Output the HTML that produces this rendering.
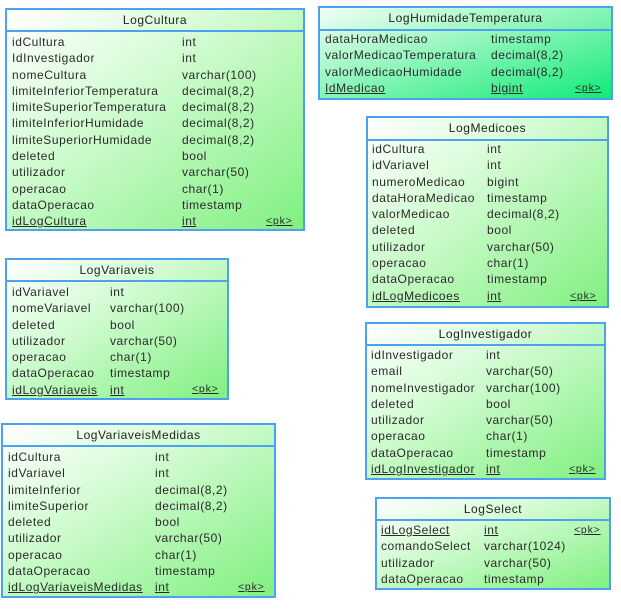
<!DOCTYPE html>
<html><head><meta charset="utf-8"><style>
body{margin:0;width:621px;height:610px;background:#fff;position:relative;overflow:hidden;font-family:"Liberation Sans",Arial,sans-serif;font-size:12px;letter-spacing:0.55px;color:#2a2a2a}
.t{position:absolute;box-sizing:border-box;border:2px solid #4aa2f0;background:linear-gradient(to bottom right,#ffffff 0%,#d8fcd8 35%,#80f080 100%)}
.t.h{background:linear-gradient(to bottom right,#f0fff6 0%,#a8f8c8 35%,#10ea78 100%)}
.hd{position:absolute;left:0;right:0;top:0;border-bottom:2px solid #4aa2f0;text-align:center;font-size:12px;color:#222}
.r{position:absolute;white-space:nowrap;line-height:16.3px}
.u{text-decoration:underline}
.pk{font-size:10.5px;letter-spacing:0.8px}
</style></head><body>

<div class="t" style="left:5px;top:8px;width:300px;height:223px">
<div class="hd" style="height:20px;line-height:20px">LogCultura</div>
<div class="r" style="left:5px;top:24px">idCultura<br>IdInvestigador<br>nomeCultura<br>limiteInferiorTemperatura<br>limiteSuperiorTemperatura<br>limiteInferiorHumidade<br>limiteSuperiorHumidade<br>deleted<br>utilizador<br>operacao<br>dataOperacao<br><span class="u">idLogCultura</span></div>
<div class="r" style="left:175px;top:24px">int<br>int<br>varchar(100)<br>decimal(8,2)<br>decimal(8,2)<br>decimal(8,2)<br>decimal(8,2)<br>bool<br>varchar(50)<br>char(1)<br>timestamp<br><span class="u">int</span></div>
<div class="r u pk" style="left:259px;top:203px">&lt;pk&gt;</div>
</div>

<div class="t h" style="left:318px;top:6px;width:295px;height:94px">
<div class="hd" style="height:21px;line-height:21px">LogHumidadeTemperatura</div>
<div class="r" style="left:5px;top:23px">dataHoraMedicao<br>valorMedicaoTemperatura<br>valorMedicaoHumidade<br><span class="u">IdMedicao</span></div>
<div class="r" style="left:171px;top:23px">timestamp<br>decimal(8,2)<br>decimal(8,2)<br><span class="u">bigint</span></div>
<div class="r u pk" style="left:255px;top:72px">&lt;pk&gt;</div>
</div>

<div class="t" style="left:366px;top:116px;width:243px;height:192px">
<div class="hd" style="height:21px;line-height:21px">LogMedicoes</div>
<div class="r" style="left:4px;top:23px">idCultura<br>idVariavel<br>numeroMedicao<br>dataHoraMedicao<br>valorMedicao<br>deleted<br>utilizador<br>operacao<br>dataOperacao<br><span class="u">idLogMedicoes</span></div>
<div class="r" style="left:119px;top:23px">int<br>int<br>bigint<br>timestamp<br>decimal(8,2)<br>bool<br>varchar(50)<br>char(1)<br>timestamp<br><span class="u">int</span></div>
<div class="r u pk" style="left:202px;top:170px">&lt;pk&gt;</div>
</div>

<div class="t" style="left:5px;top:258px;width:224px;height:142px">
<div class="hd" style="height:20px;line-height:20px">LogVariaveis</div>
<div class="r" style="left:5px;top:24px">idVariavel<br>nomeVariavel<br>deleted<br>utilizador<br>operacao<br>dataOperacao<br><span class="u">idLogVariaveis</span></div>
<div class="r" style="left:103px;top:24px">int<br>varchar(100)<br>bool<br>varchar(50)<br>char(1)<br>timestamp<br><span class="u">int</span></div>
<div class="r u pk" style="left:185px;top:121px">&lt;pk&gt;</div>
</div>

<div class="t" style="left:1px;top:423px;width:275px;height:175px">
<div class="hd" style="height:20px;line-height:20px">LogVariaveisMedidas</div>
<div class="r" style="left:5px;top:24px">idCultura<br>idVariavel<br>limiteInferior<br>limiteSuperior<br>deleted<br>utilizador<br>operacao<br>dataOperacao<br><span class="u">idLogVariaveisMedidas</span></div>
<div class="r" style="left:152px;top:24px">int<br>int<br>decimal(8,2)<br>decimal(8,2)<br>bool<br>varchar(50)<br>char(1)<br>timestamp<br><span class="u">int</span></div>
<div class="r u pk" style="left:235px;top:154px">&lt;pk&gt;</div>
</div>

<div class="t" style="left:365px;top:322px;width:241px;height:158px">
<div class="hd" style="height:20px;line-height:20px">LogInvestigador</div>
<div class="r" style="left:4px;top:23px">idInvestigador<br>email<br>nomeInvestigador<br>deleted<br>utilizador<br>operacao<br>dataOperacao<br><span class="u">idLogInvestigador</span></div>
<div class="r" style="left:119px;top:23px">int<br>varchar(50)<br>varchar(100)<br>bool<br>varchar(50)<br>char(1)<br>timestamp<br><span class="u">int</span></div>
<div class="r u pk" style="left:202px;top:137px">&lt;pk&gt;</div>
</div>

<div class="t" style="left:375px;top:497px;width:236px;height:93px">
<div class="hd" style="height:20px;line-height:20px">LogSelect</div>
<div class="r" style="left:4px;top:23px"><span class="u">idLogSelect</span><br>comandoSelect<br>utilizador<br>dataOperacao</div>
<div class="r" style="left:107px;top:23px"><span class="u">int</span><br>varchar(1024)<br>varchar(50)<br>timestamp</div>
<div class="r u pk" style="left:197px;top:23px">&lt;pk&gt;</div>
</div>

</body></html>
